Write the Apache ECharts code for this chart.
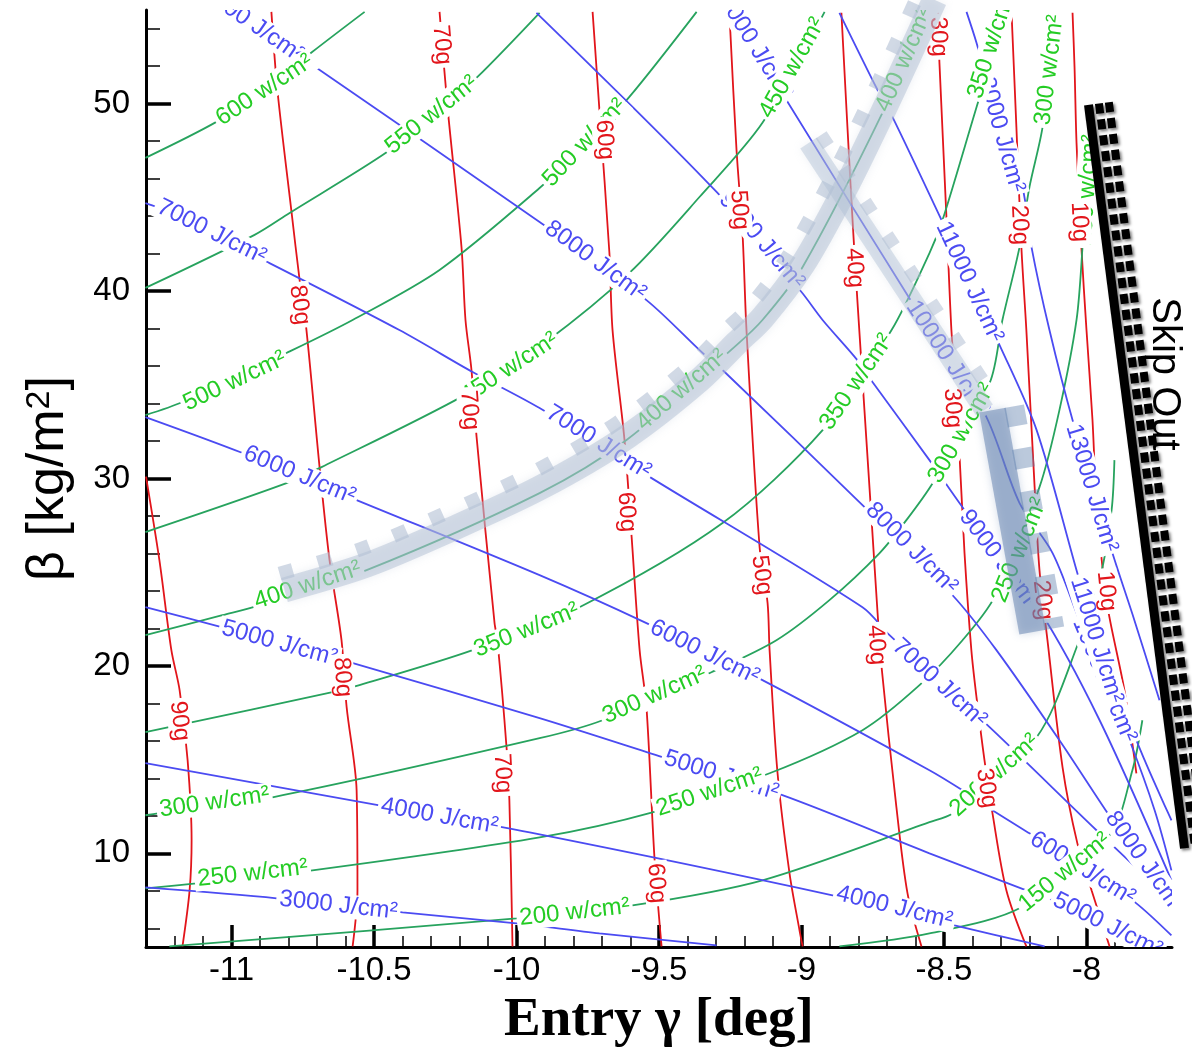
<!DOCTYPE html>
<html><head><meta charset="utf-8">
<script src="https://cdn.jsdelivr.net/npm/echarts@6/dist/echarts.min.js"></script>
<style>html,body{margin:0;padding:0;background:#fff}#c{width:1192px;height:1052px}</style>
</head><body><div id="c"></div>
<script>
// ---------- axes ----------
const xMajor = [-11, -10.5, -10, -9.5, -9, -8.5, -8];
const xMinor = [-11.2,-11.1,-10.9,-10.8,-10.7,-10.6,-10.4,-10.3,-10.2,-10.1,-9.9,-9.8,-9.7,-9.6,-9.4,-9.3,-9.2,-9.1,-8.9,-8.8,-8.7,-8.6,-8.4,-8.3,-8.2,-8.1,-7.9,-7.8];
const yMajor = [10, 20, 30, 40, 50];
const yMinor = [6,8,12,14,16,18,22,24,26,28,32,34,36,38,42,44,46,48,52,54];

// ---------- g-load contours (red) ----------
const g90 = [[-11.30,30.1],[-11.253,25.64],[-11.211,20.84],[-11.182,18.70],[-11.154,14.97],[-11.140,10.69],[-11.147,8.02],[-11.172,5.03]];
const g80 = [[-10.860,54.90],[-10.839,50.73],[-10.789,44.17],[-10.761,40.59],[-10.737,37.92],[-10.691,30.61],[-10.656,25.64],[-10.614,21.37],[-10.596,17.80],[-10.561,13.36],[-10.558,8.02],[-10.575,5.03]];
const g70 = [[-10.270,54.90],[-10.242,49.82],[-10.193,42.35],[-10.179,38.46],[-10.158,35.79],[-10.140,32.21],[-10.077,22.28],[-10.067,21.37],[-10.035,15.66],[-10.025,12.83],[-10.014,5.03]];
const g60 = [[-9.733,54.90],[-9.709,49.66],[-9.674,42.03],[-9.663,37.92],[-9.621,32.05],[-9.596,26.87],[-9.568,20.84],[-9.544,17.80],[-9.516,9.79],[-9.491,5.03]];
const g50 = [[-9.253,54.85],[-9.228,47.53],[-9.207,43.10],[-9.193,37.92],[-9.147,26.34],[-9.119,23.35],[-9.112,20.84],[-9.084,14.27],[-9.042,8.93],[-9.007,5.89],[-8.996,5.03]];
const g40 = [[-8.860,54.85],[-8.825,44.86],[-8.804,39.52],[-8.754,27.78],[-8.733,22.81],[-8.719,19.93],[-8.667,12.46],[-8.628,7.86],[-8.579,5.03]];
const g30 = [[-8.523,54.85],[-8.516,52.18],[-8.491,43.80],[-8.474,37.92],[-8.446,31.36],[-8.428,26.02],[-8.404,20.84],[-8.386,18.33],[-8.358,14.97],[-8.330,12.14],[-8.281,8.02],[-8.211,5.03]];
const g20 = [[-8.263,54.85],[-8.246,48.76],[-8.228,42.19],[-8.211,37.92],[-8.182,29.54],[-8.165,25.11],[-8.137,21.37],[-8.084,14.59],[-8.032,10.53],[-7.982,8.02],[-7.919,5.03]];
const g10 = [[-8.049,54.85],[-8.042,51.96],[-8.035,47.91],[-8.018,42.35],[-8.000,37.92],[-7.979,33.12],[-7.965,28.85],[-7.930,23.51],[-7.867,18.70],[-7.825,14.27]];
const g90At = [[-11.182,17.05]];
const g80At = [[-10.761,39.26],[-10.611,19.40]];
const g70At = [[-10.262,53.14],[-10.165,33.65],[-10.049,14.27]];
const g60At = [[-9.691,48.07],[-9.614,28.21],[-9.509,8.40]];
const g50At = [[-9.218,44.33],[-9.140,24.84]];
const g40At = [[-8.814,41.23],[-8.737,21.11]];
const g30At = [[-8.520,53.57],[-8.470,33.76],[-8.351,13.47]];
const g20At = [[-8.235,43.53],[-8.154,23.51]];
const g10At = [[-8.025,43.69],[-7.930,23.99]];

// ---------- heat-rate contours (green) ----------
const w600 = [[-11.302,47.11],[-11.053,49.03],[-10.884,50.73],[-10.716,52.77],[-10.533,54.90]];
const w550 = [[-11.302,40.17],[-10.919,43.00],[-10.796,44.17],[-10.453,47.43],[-10.270,49.66],[-10.137,51.43],[-9.919,54.85]];
const w500 = [[-11.302,33.38],[-11.172,34.08],[-10.807,36.70],[-10.575,38.46],[-10.270,41.13],[-9.919,45.50],[-9.761,47.80],[-9.604,50.36],[-9.368,54.90]];
const w450 = [[-11.302,27.14],[-10.807,29.75],[-10.684,30.61],[-10.182,34.45],[-9.902,37.23],[-9.604,40.97],[-9.358,45.02],[-9.137,48.98],[-8.919,54.90]];
const w400 = [[-11.302,21.64],[-11.032,22.71],[-10.912,23.19],[-10.526,25.11],[-9.919,29.22],[-9.614,32.05],[-9.228,37.12],[-9.137,38.46],[-8.996,41.29],[-8.716,49.51],[-8.561,54.90]];
const w350 = [[-11.302,16.46],[-10.646,18.60],[-10.551,18.97],[-10.154,20.84],[-9.779,23.13],[-9.277,27.62],[-8.926,32.58],[-8.684,37.92],[-8.551,42.03],[-8.505,43.80],[-8.375,50.36],[-8.281,54.90]];
const w300 = [[-11.302,12.03],[-11.253,12.14],[-10.856,12.99],[-9.919,16.14],[-9.698,17.10],[-9.316,19.66],[-9.088,21.37],[-8.902,23.51],[-8.726,26.02],[-8.632,27.78],[-8.540,29.75],[-8.340,35.09],[-8.295,38.46],[-8.235,42.35],[-8.200,45.56],[-8.154,48.76],[-8.105,54.85]];
const w250 = [[-11.302,8.13],[-11.123,8.40],[-10.716,9.09],[-9.919,10.85],[-9.523,12.19],[-9.112,14.27],[-8.786,16.57],[-8.586,18.97],[-8.435,21.37],[-8.323,23.67],[-8.165,29.54],[-8.095,33.65],[-8.035,38.46],[-8.014,42.35],[-7.989,48.60]];
const w200 = [[-11.218,5.03],[-10.000,6.53],[-9.593,7.22],[-9.137,8.56],[-8.551,11.66],[-8.470,12.14],[-8.175,16.19],[-8.025,21.37],[-7.954,24.58],[-7.912,28.31],[-7.902,30.98]];
const w150 = [[-8.867,5.03],[-8.551,5.73],[-8.228,7.12],[-7.919,10.96],[-7.839,14.43],[-7.804,17.10]];
const w600At = [[-10.884,50.73]];
const w550At = [[-10.298,49.40]];
const w500At = [[-10.989,35.20],[-9.761,47.91]];
const w450At = [[-10.025,35.89],[-9.032,51.91]];
const w400At = [[-10.733,24.31],[-9.421,34.72],[-8.639,52.34]];
const w350At = [[-9.965,21.91],[-8.807,35.15],[-8.333,53.14]];
const w300At = [[-11.060,12.72],[-9.516,18.44],[-8.439,32.42],[-8.130,51.80]];
const w250At = [[-10.926,8.93],[-9.323,13.26],[-8.235,26.18],[-7.996,45.40]];
const w200At = [[-9.796,6.85],[-8.323,14.16]];
const w150At = [[-8.077,8.99]];

// ---------- heat-load contours (blue) ----------
const j3000 = [[-11.302,8.18],[-10.842,7.60],[-10.400,6.85],[-10.000,6.26],[-9.709,5.73],[-9.298,5.09]];
const j4000 = [[-11.302,14.81],[-10.481,12.56],[-9.954,11.12],[-8.891,7.76],[-8.463,6.16],[-8.147,5.03]];
const j5000 = [[-11.302,23.13],[-11.035,22.07],[-10.586,20.20],[-9.919,17.21],[-9.488,15.13],[-9.067,13.10],[-8.551,10.00],[-8.211,8.02],[-8.025,6.96],[-7.814,5.36],[-7.779,5.03]];
const j6000 = [[-11.302,33.28],[-10.961,31.36],[-10.561,28.85],[-9.919,24.84],[-9.544,22.28],[-9.137,19.24],[-8.551,14.43],[-8.435,13.36],[-8.330,12.30],[-8.200,11.07],[-7.989,9.09],[-7.825,7.33],[-7.702,5.62]];
const j7000 = [[-11.302,44.70],[-11.263,44.49],[-10.874,41.55],[-10.411,37.92],[-10.154,35.68],[-9.919,33.76],[-9.526,30.02],[-8.786,23.13],[-8.691,21.64],[-8.340,16.73],[-7.965,11.23],[-7.779,8.56]];
const j8000 = [[-10.996,55.0],[-10.716,52.07],[-9.919,43.69],[-9.544,39.52],[-9.347,36.70],[-9.277,35.79],[-8.786,28.58],[-8.470,23.77],[-8.316,20.84],[-8.095,16.03],[-7.909,11.76],[-7.702,7.33]];
const j9000 = [[-9.930,54.85],[-9.298,45.29],[-9.000,39.95],[-8.926,38.46],[-8.804,36.32],[-8.751,35.15],[-8.551,30.98],[-8.435,28.47],[-8.165,22.97],[-7.954,17.10],[-7.702,8.56]];
const j10000 = [[-9.249,55.01],[-9.053,50.20],[-8.611,39.36],[-8.358,33.49],[-8.235,28.69],[-8.119,26.02],[-8.025,22.44],[-7.937,19.24],[-7.849,16.03],[-7.761,12.30],[-7.702,9.09]];
const j11000 = [[-8.867,54.85],[-8.733,50.73],[-8.681,49.30],[-8.509,43.80],[-8.305,37.12],[-8.175,32.58],[-8.025,24.58],[-7.937,20.30],[-7.796,14.97],[-7.702,11.76]];
const j13000 = [[-8.421,54.90],[-8.386,53.25],[-8.295,48.33],[-8.225,45.56],[-8.193,42.35],[-8.130,37.92],[-8.049,33.12],[-7.909,26.02],[-7.832,22.44],[-7.744,18.17]];
const j3000At = [[-10.625,7.22]];
const j4000At = [[-10.270,11.98],[-8.674,7.12]];
const j5000At = [[-10.832,21.21],[-9.281,14.16],[-7.926,6.16]];
const j6000At = [[-10.761,30.18],[-9.340,20.73],[-8.014,9.20]];
const j7000At = [[-11.070,43.16],[-9.712,31.94],[-8.516,19.08]];
const j8000At = [[-10.926,54.26],[-9.723,41.61],[-8.614,26.28],[-7.796,9.52]];
const j9000At = [[-9.140,42.68],[-8.305,25.64]];
const j10000At = [[-9.175,53.35],[-8.488,36.43],[-7.937,19.24]];
const j11000At = [[-8.411,40.49],[-7.965,21.37]];
const j13000At = [[-8.305,48.70],[-7.982,29.49]];

// ---------- annotations ----------
const bandArc = [[-10.814,24.05],[-10.526,25.38],[-10.235,27.25],[-9.919,29.49],[-9.614,32.21],[-9.358,35.25],[-9.228,37.23],[-9.137,38.57],[-8.996,41.40],[-8.849,45.40],[-8.716,49.51],[-8.621,52.61],[-8.533,55.54]];
const bandStraight = [[-8.975,47.90],[-8.358,33.65]];
const bandDark = [[-8.330,33.65],[-8.189,21.80]];
const skipOut = [[-7.993,49.94],[-7.656,10.27]];

const RED = '#e2151b', GLINE = '#27a35e', GTEXT = '#24cc24', BLUE = '#4b4bf2';
const FONT = '"Liberation Sans", Arial, sans-serif';

const redSet = [
  ['90g', g90, g90At], ['80g', g80, g80At], ['70g', g70, g70At], ['60g', g60, g60At], ['50g', g50, g50At],
  ['40g', g40, g40At], ['30g', g30, g30At], ['20g', g20, g20At], ['10g', g10, g10At]
];
const greenSet = [
  ['600 w/cm²', w600, w600At], ['550 w/cm²', w550, w550At], ['500 w/cm²', w500, w500At],
  ['450 w/cm²', w450, w450At], ['400 w/cm²', w400, w400At], ['350 w/cm²', w350, w350At],
  ['300 w/cm²', w300, w300At], ['250 w/cm²', w250, w250At], ['200 w/cm²', w200, w200At], ['150 w/cm²', w150, w150At]
];
const blueSet = [
  ['3000 J/cm²', j3000, j3000At], ['4000 J/cm²', j4000, j4000At], ['5000 J/cm²', j5000, j5000At],
  ['6000 J/cm²', j6000, j6000At], ['7000 J/cm²', j7000, j7000At], ['8000 J/cm²', j8000, j8000At],
  ['9000 J/cm²', j9000, j9000At], ['10000 J/cm²', j10000, j10000At], ['11000 J/cm²', j11000, j11000At],
  ['13000 J/cm²', j13000, j13000At]
];
const families = [
  { set: redSet, line: RED, text: RED },
  { set: greenSet, line: GLINE, text: GTEXT },
  { set: blueSet, line: BLUE, text: BLUE }
];

function segDist(p, a, b) {
  const vx = b[0]-a[0], vy = b[1]-a[1];
  const L2 = vx*vx + vy*vy || 1;
  let t = ((p[0]-a[0])*vx + (p[1]-a[1])*vy) / L2;
  t = Math.max(0, Math.min(1, t));
  const qx = a[0] + t*vx, qy = a[1] + t*vy;
  return Math.hypot(p[0]-qx, p[1]-qy);
}
function offsetPts(pts, d) {
  return pts.map((p, i) => {
    const a = pts[Math.max(0, i-1)], b = pts[Math.min(pts.length-1, i+1)];
    const dx = b[0]-a[0], dy = b[1]-a[1], L = Math.hypot(dx, dy) || 1;
    return [p[0] + d*dy/L, p[1] - d*dx/L];
  });
}

const series = [];
families.forEach(f => f.set.forEach(c => series.push({
  type: 'line', data: c[1], showSymbol: false, symbol: 'none', smooth: 0.3,
  lineStyle: { color: f.line, width: 1.8 }, z: 2, silent: true, clip: true
})));

// labels: blue first, then green, then red on top (as in the reference)
const labelItems = [];
[families[2], families[1], families[0]].forEach(f =>
  f.set.forEach(c => c[2].forEach(p => labelItems.push({ p, text: c[0], pts: c[1], color: f.text }))));

series.push({
  type: 'custom', coordinateSystem: 'cartesian2d', clip: true, z: 5, silent: true,
  encode: { x: 0, y: 1 },
  data: labelItems.map(l => l.p),
  renderItem(params, api) {
    const L = labelItems[params.dataIndex];
    const c = api.coord(L.p);
    let best = 1e9, dx = 1, dy = 0;
    for (let i = 0; i < L.pts.length - 1; i++) {
      const a = api.coord(L.pts[i]), b = api.coord(L.pts[i+1]);
      const d = segDist(c, a, b);
      if (d < best) { best = d; dx = b[0]-a[0]; dy = b[1]-a[1]; }
    }
    if (dx < 0) { dx = -dx; dy = -dy; }
    return {
      type: 'text', x: c[0], y: c[1], rotation: -Math.atan2(dy, dx),
      style: { text: L.text, fill: L.color, font: '24px ' + FONT, align: 'center', verticalAlign: 'middle',
               backgroundColor: '#fff', padding: [0, 3] }
    };
  }
});

const bands = [
  { pts: bandArc, w: 25, col: 'rgba(178,192,212,0.5)', sq: 14, off: 17, gap: 26, scol: 'rgba(178,192,212,0.6)' },
  { pts: bandStraight, w: 20, col: 'rgba(178,192,212,0.45)', sq: 13, off: 15, gap: 27, scol: 'rgba(178,192,212,0.55)' },
  { pts: bandDark, w: 27, col: 'rgba(105,135,178,0.55)', sq: 20, off: 22, gap: 23, scol: 'rgba(105,135,178,0.45)' }
];
series.push({
  type: 'custom', coordinateSystem: 'cartesian2d', clip: false, z: 8, silent: true,
  encode: { x: 0, y: 1 },
  data: bands.map(b => b.pts[0]),
  renderItem(params, api) {
    const B = bands[params.dataIndex];
    const pts = B.pts.map(p => api.coord(p));
    return { type: 'group', children: [
      { type: 'polyline', shape: { points: pts, smooth: 0.3 },
        style: { stroke: B.col, lineWidth: B.w, fill: null, lineCap: 'butt', lineJoin: 'round', shadowBlur: 8, shadowColor: B.col } },
      { type: 'polyline', shape: { points: offsetPts(pts, B.off), smooth: 0.3 },
        style: { stroke: B.scol, lineWidth: B.sq, fill: null, lineCap: 'butt', lineDash: [B.sq, B.gap] } }
    ]};
  }
});

series.push({
  type: 'custom', coordinateSystem: 'cartesian2d', clip: false, z: 9, silent: true,
  encode: { x: 0, y: 1 },
  data: [skipOut[0]],
  renderItem(params, api) {
    const pts = skipOut.map(p => api.coord(p));
    const sh = { shadowBlur: 3, shadowColor: 'rgba(0,0,0,0.5)', shadowOffsetX: 2, shadowOffsetY: 2 };
    return { type: 'group', children: [
      { type: 'polyline', shape: { points: pts }, style: Object.assign({ stroke: '#000', lineWidth: 9, fill: null }, sh) },
      { type: 'polyline', shape: { points: offsetPts(pts, 10.5) }, style: Object.assign({ stroke: '#000', lineWidth: 8, fill: null, lineDash: [10, 6] }, sh) },
      { type: 'polyline', shape: { points: offsetPts(pts, 20.5) }, style: Object.assign({ stroke: '#000', lineWidth: 8, fill: null, lineDash: [10, 6] }, sh) }
    ]};
  }
});

const option = {
  animation: false,
  backgroundColor: '#fff',
  grid: { left: 146, right: 20, top: 10, bottom: 105, containLabel: false, outerBoundsMode: 'none' },
  xAxis: [
    { type: 'value', min: -11.3, max: -7.7, position: 'bottom',
      axisLine: { show: true, onZero: false, lineStyle: { color: '#000', width: 3 } },
      axisTick: { show: true, inside: true, length: 22, customValues: xMajor, lineStyle: { color: '#000', width: 3.5 } },
      axisLabel: { show: true, customValues: xMajor, fontSize: 33, color: '#000', margin: 7, fontFamily: FONT, formatter: v => String(v) },
      splitLine: { show: false },
      name: 'Entry γ [deg]', nameLocation: 'middle', nameGap: 46,
      nameTextStyle: { fontFamily: '"Liberation Serif", "Times New Roman", serif', fontWeight: 'bold', fontSize: 55, color: '#000' } },
    { type: 'value', min: -11.3, max: -7.7, position: 'bottom', offset: 0,
      axisLine: { show: false }, axisLabel: { show: false }, splitLine: { show: false },
      axisTick: { show: true, inside: true, length: 11, customValues: xMinor, lineStyle: { color: '#000', width: 1.5 } } }
  ],
  yAxis: [
    { type: 'value', min: 5, max: 55, position: 'left',
      axisLine: { show: true, onZero: false, lineStyle: { color: '#000', width: 3 } },
      axisTick: { show: true, inside: true, length: 25, customValues: yMajor, lineStyle: { color: '#000', width: 3.5 } },
      axisLabel: { show: true, customValues: yMajor, fontSize: 33, color: '#000', margin: 16, fontFamily: FONT },
      splitLine: { show: false },
      name: 'β [kg/m{s|2}]', nameLocation: 'middle', nameGap: 71, nameRotate: 90,
      nameTextStyle: { fontFamily: FONT, fontSize: 52, color: '#000',
        rich: { s: { fontSize: 34, verticalAlign: 'top', fontFamily: FONT, color: '#000', padding: [0, 0, 16, 0] } } } },
    { type: 'value', min: 5, max: 55, position: 'left', offset: 0,
      axisLine: { show: false }, axisLabel: { show: false }, splitLine: { show: false },
      axisTick: { show: true, inside: true, length: 14, customValues: yMinor, lineStyle: { color: '#000', width: 1.5 } } }
  ],
  graphic: [
    { type: 'text', x: 1164, y: 374, rotation: -Math.PI / 2, z: 100,
      style: { text: 'Skip Out', font: '40px ' + FONT, fill: '#000', align: 'center', verticalAlign: 'middle' } }
  ],
  series
};

const chart = echarts.init(document.getElementById('c'));
chart.setOption(option);
</script>
</body></html>
